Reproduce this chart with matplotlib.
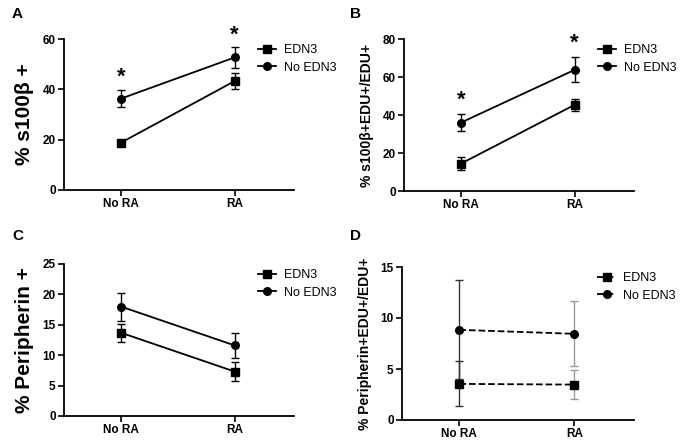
import numpy as np
import matplotlib
matplotlib.use("Agg")
import matplotlib.pyplot as plt

plt.rcParams['font.family'] = ['Liberation Sans', 'DejaVu Sans']

groups = ["No RA", "RA"]
series_names = ["EDN3", "No EDN3"]

# panel A: % s100b +
a_edn3 = [18.8, 43.3]
a_edn3_err = [0.9, 3.0]
a_no = [36.3, 52.7]
a_no_err = [3.4, 4.2]
a_stars = [44.9, 61.6]

# panel B: % s100b+EDU+/EDU+
b_edn3 = [14.4, 45.4]
b_edn3_err = [3.6, 3.2]
b_no = [36.0, 63.8]
b_no_err = [4.5, 6.6]
b_stars = [47.9, 77.9]

# panel C: % Peripherin +
c_edn3 = [13.7, 7.3]
c_edn3_err = [1.5, 1.6]
c_no = [18.0, 11.6]
c_no_err = [2.3, 2.0]

# panel D: % Peripherin+EDU+/EDU+
d_edn3 = [3.54, 3.47]
d_edn3_err = [2.2, 1.4]
d_no = [8.84, 8.45]
d_no_err = [4.85, 3.2]

fig = plt.figure(figsize=(6.83, 4.41), dpi=100)

W, H = 683, 441


def make_ax(left, right, bottom, top):
    return fig.add_axes([left / W, 1 - bottom / H, (right - left) / W, (bottom - top) / H])


def style(ax, ymax, step, ylabel, lsize):
    x = np.arange(len(groups))
    ax.set_xlim(-0.5, 1.52)
    ax.set_ylim(0, ymax)
    ax.set_yticks(np.arange(0, ymax + 0.1, step))
    ax.set_xticks(x)
    ax.set_xticklabels(groups)
    for s in ['top', 'right']:
        ax.spines[s].set_visible(False)
    for s in ['left', 'bottom']:
        ax.spines[s].set_linewidth(1.3)
    ax.tick_params(width=1.2, length=4, labelsize=8.5, pad=2)
    for lab in ax.get_xticklabels() + ax.get_yticklabels():
        lab.set_fontweight('bold')
    ax.set_ylabel(ylabel, fontsize=lsize, fontweight='bold', labelpad=6)


def draw(ax, e, ee, n, ne, ls='-', ecol=('black', 'black')):
    x = np.arange(len(groups))
    for i in range(len(x)):
        ax.errorbar(x[i], e[i], yerr=ee[i], fmt='none', ecolor=ecol[i], elinewidth=1.0,
                    capsize=3, capthick=1.0, zorder=2)
        ax.errorbar(x[i], n[i], yerr=ne[i], fmt='none', ecolor=ecol[i], elinewidth=1.0,
                    capsize=3, capthick=1.0, zorder=2)
    ax.plot(x, e, ls, color='black', marker='s', markersize=5.5, lw=1.3, label=series_names[0], zorder=3)
    ax.plot(x, n, ls, color='black', marker='o', markersize=5.5, lw=1.3, label=series_names[1], zorder=3)
    ax.legend(loc='upper left', bbox_to_anchor=(0.82, 1.0), frameon=False, fontsize=9,
              handlelength=1.5, handletextpad=0.6, labelspacing=0.45, borderaxespad=0)


axA = make_ax(64, 294, 190, 39)
draw(axA, a_edn3, a_edn3_err, a_no, a_no_err)
style(axA, 60, 20, "% s100\u03b2 +", 15)
for i, s in enumerate(a_stars):
    axA.text(i, s, "*", ha='center', va='center', fontsize=16, fontweight='bold', clip_on=False)

axB = make_ax(404, 634, 191, 39)
draw(axB, b_edn3, b_edn3_err, b_no, b_no_err)
style(axB, 80, 20, "% s100\u03b2+EDU+/EDU+", 10)
for i, s in enumerate(b_stars):
    axB.text(i, s, "*", ha='center', va='center', fontsize=16, fontweight='bold', clip_on=False)

axC = make_ax(64, 294, 416, 264)
draw(axC, c_edn3, c_edn3_err, c_no, c_no_err)
style(axC, 25, 5, "% Peripherin +", 15)

axD = make_ax(402, 634, 420, 267)
draw(axD, d_edn3, d_edn3_err, d_no, d_no_err, ls='--', ecol=('#333333', '#999999'))
style(axD, 15, 5, "% Peripherin+EDU+/EDU+", 10)

for lab, x, y in [("A", 12, 14), ("B", 350, 14), ("C", 12, 236), ("D", 350, 236)]:
    fig.text(x / W, 1 - y / H, lab, fontsize=11, fontweight='bold', ha='left', va='center')

fig.savefig("out.png", dpi=100)
